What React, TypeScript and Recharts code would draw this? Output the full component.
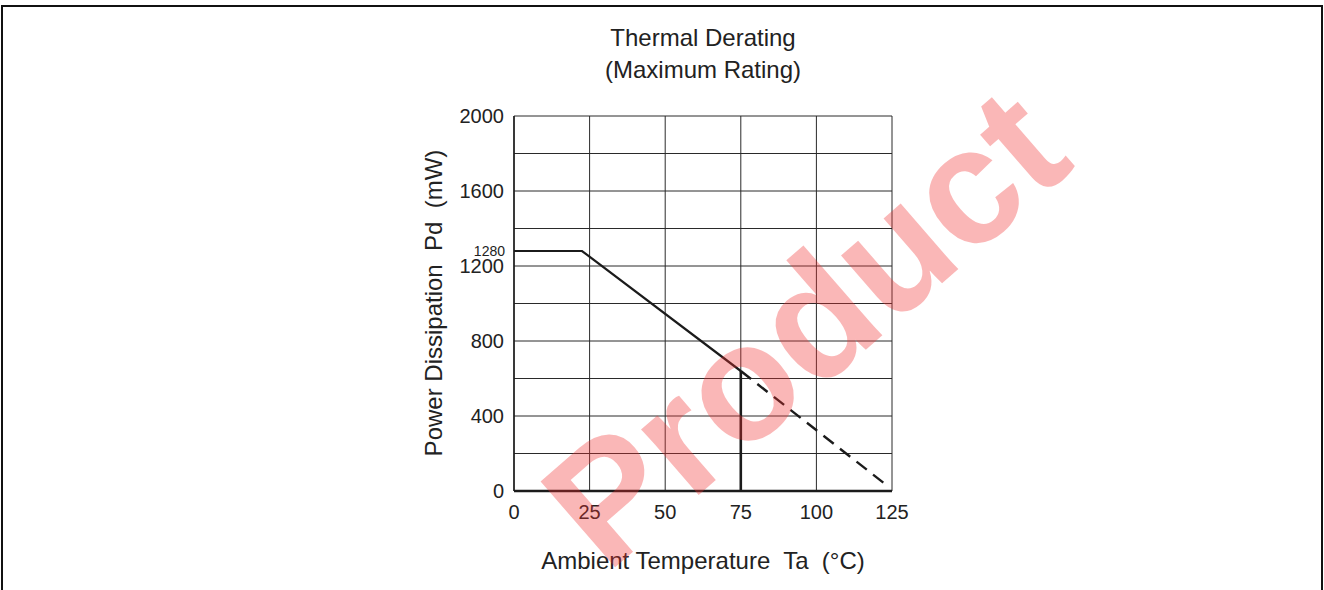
import { LineChart, Line, XAxis, YAxis, CartesianGrid, ReferenceLine } from 'recharts';

// ambient temperature (°C) / power dissipation (mW)
const SOLID_T = [0, 22.5, 75];
const SOLID_P = [1280, 1280, 640];
const DASH_T = [75, 122.5];
const DASH_P = [640, 40];
const CUT_T = [75, 75];
const CUT_P = [640, 0];

const X_TICKS = [0, 25, 50, 75, 100, 125];
const Y_TICKS = [0, 200, 400, 600, 800, 1000, 1200, 1400, 1600, 1800, 2000];

const FONT = '"Liberation Sans", Arial, Helvetica, sans-serif';
const INK = '#1b1b1b';

const toRows = (t: number[], p: number[]) => t.map((v, i) => ({ t: v, p: p[i] }));

const solidData = toRows(SOLID_T, SOLID_P);
const dashData = toRows(DASH_T, DASH_P);
const cutData = toRows(CUT_T, CUT_P);

const XTick = (props: any) => {
  const { x, y, payload } = props;
  return (
    <text x={x} y={y + 13} textAnchor="middle" dominantBaseline="central" fontSize={20} fill="#222" fontFamily={FONT}>
      {payload.value}
    </text>
  );
};

const YTick = (props: any) => {
  const { x, y, payload } = props;
  if (payload.value % 400 !== 0) return <g />;
  return (
    <text x={x - 2} y={y} textAnchor="end" dominantBaseline="central" fontSize={20} fill="#222" fontFamily={FONT}>
      {payload.value}
    </text>
  );
};

export default function App() {
  return (
    <div style={{ position: 'absolute', left: 0, top: 0, width: 1324, height: 590, overflow: 'hidden', background: '#fff', fontFamily: FONT }}>
      <div style={{ position: 'absolute', left: 1, top: 5, width: 1322, height: 700, boxSizing: 'border-box', borderTop: '2px solid #111', borderLeft: '2px solid #111', borderRight: '2px solid #111' }} />

      <div style={{ position: 'absolute', left: 503, width: 400, top: 22, textAlign: 'center', fontSize: 24, lineHeight: '32px', color: '#222' }}>
        Thermal Derating
        <br />
        (Maximum Rating)
      </div>

      <LineChart width={1324} height={590} margin={{ top: 116, right: 432, bottom: 59, left: 454 }} style={{ position: 'absolute', left: 0, top: 0 }}>
        <CartesianGrid stroke="#2a2a2a" strokeWidth={1} />
        <XAxis
          dataKey="t"
          type="number"
          domain={[0, 125]}
          ticks={X_TICKS}
          height={40}
          tickLine={false}
          axisLine={{ stroke: INK, strokeWidth: 2.5 }}
          tick={<XTick />}
          interval={0}
        />
        <YAxis
          type="number"
          domain={[0, 2000]}
          ticks={Y_TICKS}
          width={60}
          tickLine={false}
          axisLine={{ stroke: INK, strokeWidth: 1.5 }}
          tick={<YTick />}
          interval={0}
        />
        <XAxis xAxisId="top" orientation="top" type="number" domain={[0, 125]} tick={false} tickLine={false} height={0} axisLine={{ stroke: INK, strokeWidth: 1.5 }} />
        <YAxis yAxisId="right" orientation="right" type="number" domain={[0, 2000]} tick={false} tickLine={false} width={0} axisLine={{ stroke: INK, strokeWidth: 1.5 }} />
        <ReferenceLine y={1280} strokeOpacity={0} label={{ value: '1280', position: 'left', offset: 9, fontSize: 14, fill: '#222', fontFamily: FONT }} />
        <Line data={solidData} dataKey="p" type="linear" stroke={INK} strokeWidth={2.2} dot={false} activeDot={false} isAnimationActive={false} />
        <Line data={dashData} dataKey="p" type="linear" stroke={INK} strokeWidth={2.4} strokeDasharray="13 8" dot={false} activeDot={false} isAnimationActive={false} />
        <Line data={cutData} dataKey="p" type="linear" stroke={INK} strokeWidth={2.6} dot={false} activeDot={false} isAnimationActive={false} />
      </LineChart>

      <div style={{ position: 'absolute', left: 0, top: 545, width: 1406, textAlign: 'center', fontSize: 24, lineHeight: '32px', color: '#222', whiteSpace: 'pre' }}>
        {'Ambient Temperature  Ta  (°C)'}
      </div>
      <div style={{ position: 'absolute', left: 434 - 200, top: 303 - 16, width: 400, textAlign: 'center', fontSize: 24, lineHeight: '32px', color: '#222', whiteSpace: 'pre', transform: 'rotate(-90deg)' }}>
        {'Power Dissipation  Pd  (mW)'}
      </div>

      <div style={{ position: 'absolute', left: 455, top: 245, width: 700, height: 165, textAlign: 'center', fontSize: 165, lineHeight: 1, fontWeight: 700, color: 'rgba(240, 50, 50, 0.35)', transform: 'rotate(-41deg)', pointerEvents: 'none', whiteSpace: 'pre' }}>
        Product
      </div>
    </div>
  );
}
